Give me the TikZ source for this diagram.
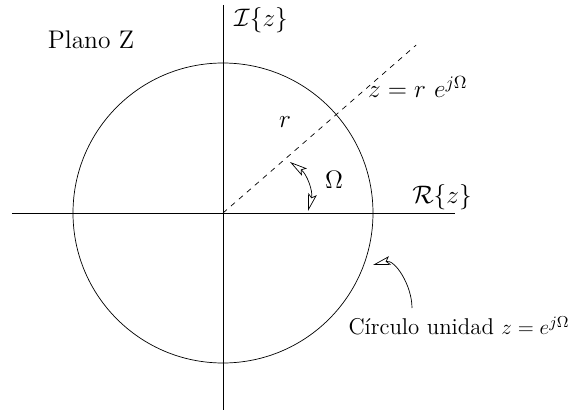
\documentclass[tikz,border=0pt]{standalone}
\usepackage{amsmath,amssymb}
\usetikzlibrary{arrows.meta}

\tikzset{
  lbl/.style={font=\fontsize{13}{15}\selectfont, inner sep=1pt},
  mlbl/.style={font=\fontsize{14.5}{17}\selectfont, inner sep=1pt},
  flecha/.style={{Stealth[open,length=10pt,width=5pt,inset=2pt]}-{Stealth[open,length=10pt,width=5pt,inset=2pt]}, thin},
  flechafin/.style={-{Stealth[open,length=10pt,width=5pt,inset=2pt]}, thin}
}

\begin{document}
\begin{tikzpicture}

\useasboundingbox (-4.46,-4.02) rectangle (7.02,4.26);

% ejes
\coordinate (izq) at (-4.22,0);
\coordinate (der) at (4.64,0);
\coordinate (arriba) at (0,4.16);
\coordinate (abajo) at (0,-3.94);
\coordinate (O) at (0,0);
\draw (izq) -- (der);
\draw (arriba) -- (abajo);

% circulo unidad
\draw (O) circle (3cm);

% radio
\coordinate (punta) at (41:5.12);
\draw[dashed] (O) -- (punta);

% angulo
\coordinate (angA) at (1.70,0.04);
\coordinate (angB) at (1.34,1.02);
\draw[flecha] (angA) to[out=75,in=-35] (angB);

\coordinate (cola) at (3.78,-1.9);
\coordinate (tip) at (3.0,-1.04);
\draw[flechafin] (cola) to[out=90,in=15] (tip);

\node[lbl, font=\fontsize{14.5}{17}\selectfont] (plano) at (-2.64,3.46) {Plano Z};
\node[mlbl] (imag) at (0.76,3.86) {$\mathcal{I}\{z\}$};
\node[mlbl] (real) at (4.38,0.32) {$\mathcal{R}\{z\}$};
\node[mlbl, anchor=west] (zeta) at (2.86,2.52) {$z = r\ e^{j\Omega}$};
\node[mlbl] (radio) at (1.24,1.82) {$r$};
\node[mlbl] (omega) at (2.22,0.66) {$\Omega$};
\node[lbl] (unidad) at (4.72,-2.26) {Círculo unidad $z = e^{j\Omega}$};

\end{tikzpicture}
\end{document}
